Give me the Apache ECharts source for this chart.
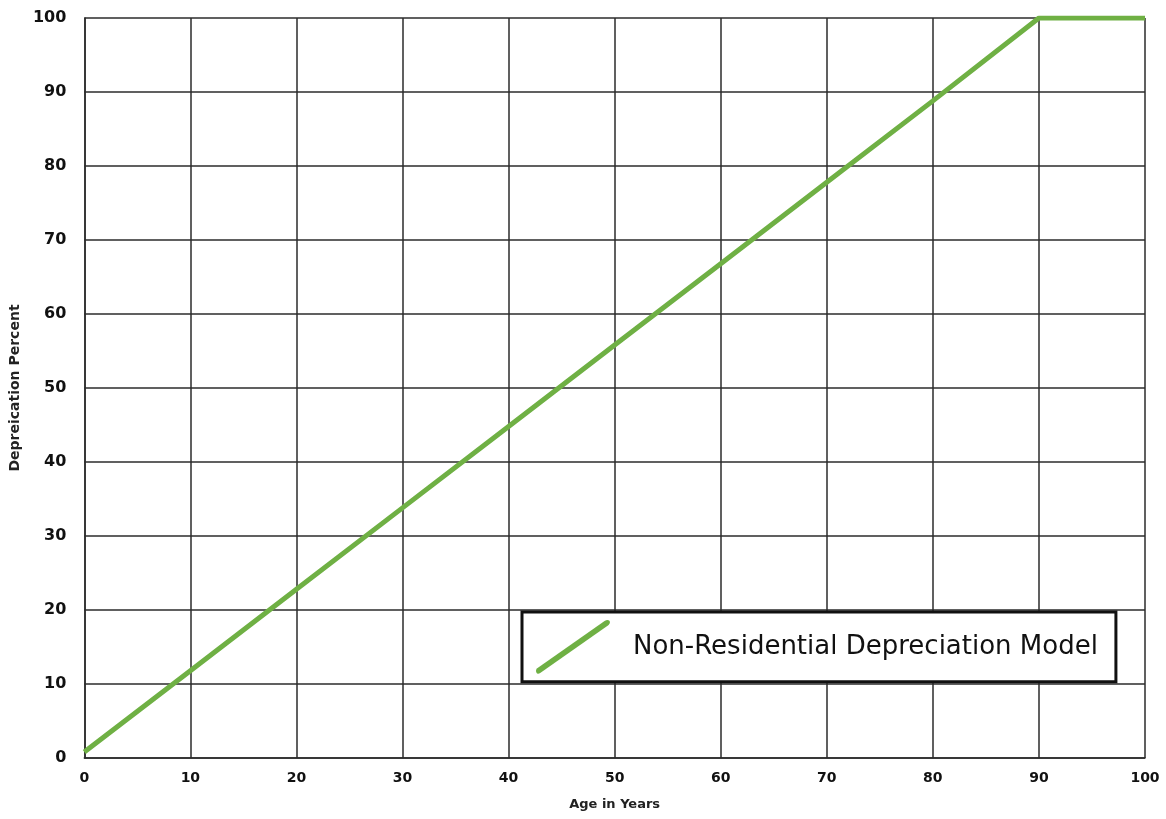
<!DOCTYPE html>
<html><head><meta charset="utf-8">
<script src="https://cdn.jsdelivr.net/npm/echarts@6/dist/echarts.min.js"></script>
<style>html,body{margin:0;padding:0;background:#fff}#c{width:1166px;height:819px}</style>
</head><body><div id="c"></div>
<script>
const seriesName = 'Non-Residential Depreciation Model';
const ageYears = [0, 10, 20, 30, 40, 50, 60, 70, 80, 90, 100];
const depreciationPct = [0.8, 11.8, 22.8, 33.8, 44.8, 55.8, 66.8, 77.8, 88.8, 100, 100];
const xAxisTitle = 'Age in Years';
const yAxisTitle = 'Depreication Percent';

const chart = echarts.init(document.getElementById('c'));
const gridLine = { lineStyle: { color: '#2b2b2b', width: 1.5 } };
chart.setOption({
  animation: false,
  backgroundColor: '#fff',
  grid: { left: 84, right: 21, top: 18, bottom: 61, containLabel: false },
  xAxis: {
    type: 'value', min: 0, max: 100, interval: 10,
    name: xAxisTitle, nameLocation: 'middle', nameGap: 40,
    nameTextStyle: { fontFamily: 'DejaVu Sans', fontWeight: 'bold', fontSize: 13, color: '#222' },
    axisLine: { show: true, lineStyle: { color: '#2b2b2b', width: 1.5 } },
    axisTick: { show: false },
    axisLabel: { fontFamily: 'DejaVu Sans', fontWeight: 'bold', fontSize: 14, color: '#111', margin: 13 },
    splitLine: { show: true, ...gridLine }
  },
  yAxis: {
    type: 'value', min: 0, max: 100, interval: 10,
    name: yAxisTitle, nameLocation: 'middle', nameGap: 59, nameRotate: 90,
    nameTextStyle: { fontFamily: 'DejaVu Sans', fontWeight: 'bold', fontSize: 14, color: '#222' },
    axisLine: { show: true, lineStyle: { color: '#2b2b2b', width: 1.5 } },
    axisTick: { show: false },
    axisLabel: { fontFamily: 'DejaVu Sans', fontWeight: 'bold', fontSize: 16, color: '#111', margin: 18 },
    splitLine: { show: true, ...gridLine }
  },
  legend: {
    show: true, left: 522, top: 612, orient: 'horizontal',
    padding: [8, 18, 8, 14],
    borderColor: '#111', borderWidth: 3, backgroundColor: '#fff',
    itemWidth: 74, itemHeight: 54, itemGap: 10,
    icon: 'path://M1,49 L68,2 Q71,0 73,2 Q74,4 72,6 L5,53 Q2,55 1,53 Q0,51 1,49 Z',
    textStyle: { fontFamily: 'DejaVu Sans', fontSize: 26, color: '#111', padding: [0, 0, 0, 18] },
    data: [seriesName]
  },
  series: [{
    name: seriesName, type: 'line',
    data: ageYears.map((a, i) => [a, depreciationPct[i]]),
    showSymbol: false, symbol: 'none',
    itemStyle: { color: '#6fb044' },
    lineStyle: { color: '#6fb044', width: 5 }
  }]
});
</script></body></html>
